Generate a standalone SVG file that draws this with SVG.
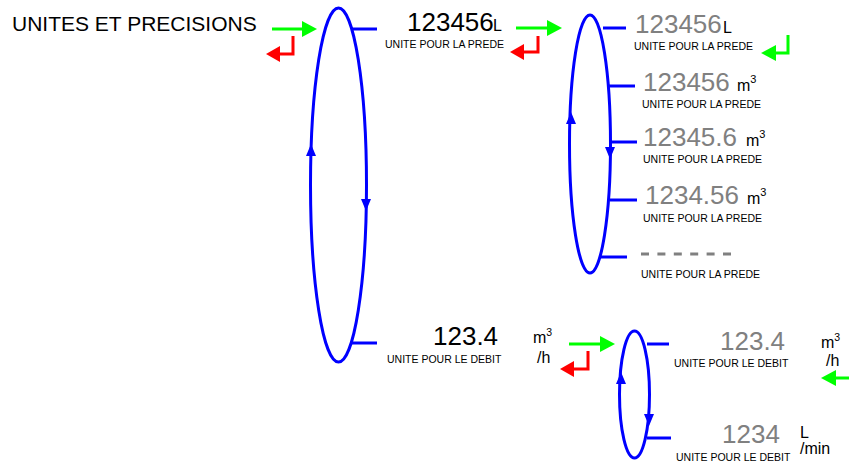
<svg xmlns="http://www.w3.org/2000/svg" width="849" height="463" viewBox="0 0 849 463">
<style>
text{font-family:"Liberation Sans",Arial,sans-serif}
.title{font-size:21px;fill:#000}
.num{font-size:26px;fill:#000}
.gnum{font-size:26px;fill:#808080}
.unit{font-size:16px;fill:#000}
.lbl{font-size:10.5px;fill:#000}
.sup{font-size:11px}
.loop{fill:none;stroke:#0000ff;stroke-width:3}
.tick{stroke:#0000ff;stroke-width:3}
.tri{fill:#0000ff}
.g{stroke:#00ff00;stroke-width:3;fill:none}
.r{stroke:#ff0000;stroke-width:3;fill:none}
</style>
<defs>
<marker id="hg" markerUnits="userSpaceOnUse" markerWidth="15" markerHeight="16" refX="0" refY="8" orient="auto" viewBox="0 0 15 16"><path d="M0,0 L15,8 L0,16 z" fill="#00ff00"/></marker>
<marker id="hr" markerUnits="userSpaceOnUse" markerWidth="14" markerHeight="16" refX="0" refY="8" orient="auto" viewBox="0 0 14 16"><path d="M0,0 L14,8 L0,16 z" fill="#ff0000"/></marker>
</defs>

<text class="title" x="12" y="31">UNITES ET PRECISIONS</text>

<g id="connectors">
<path class="g" d="M272,29 H302" marker-end="url(#hg)"/>
<path class="r" d="M293,36 V54 H280" marker-end="url(#hr)"/>
<path class="g" d="M516,28 H547" marker-end="url(#hg)"/>
<path class="r" d="M538,36 V52 H524" marker-end="url(#hr)"/>
<path class="g" d="M788,35 V53 H776" marker-end="url(#hg)"/>
<path class="g" d="M569,344 H600" marker-end="url(#hg)"/>
<path class="r" d="M588,351 V369 H574" marker-end="url(#hr)"/>
<path class="g" d="M849,378 H836" marker-end="url(#hg)"/>
</g>

<g id="loop1">
<ellipse class="loop" cx="338.5" cy="185" rx="28" ry="177"/>
<line class="tick" x1="352" y1="29" x2="377" y2="29"/>
<line class="tick" x1="352" y1="343" x2="377" y2="343"/>
<polygon class="tri" points="311,144 306,156 316,156"/>
<polygon class="tri" points="366,211 361,199 371,199"/>
</g>

<g id="loop2">
<ellipse class="loop" cx="590" cy="144" rx="20.5" ry="129"/>
<line class="tick" x1="603" y1="28" x2="626" y2="28"/>
<line class="tick" x1="609" y1="86" x2="635" y2="86"/>
<line class="tick" x1="610" y1="142" x2="637" y2="142"/>
<line class="tick" x1="610" y1="200" x2="637" y2="200"/>
<line class="tick" x1="601" y1="257" x2="627" y2="257"/>
<polygon class="tri" points="571,112 566,124 576,124"/>
<polygon class="tri" points="610,159 605,147 615,147"/>
</g>

<g id="loop3">
<ellipse class="loop" cx="634.5" cy="394.5" rx="15" ry="63.5"/>
<line class="tick" x1="647" y1="344" x2="669" y2="344"/>
<line class="tick" x1="647" y1="438" x2="671" y2="438"/>
<polygon class="tri" points="621,372 616,384 626,384"/>
<polygon class="tri" points="649,426 644,414 654,414"/>
</g>

<g id="node-volume-current">
<text class="num" x="407" y="31">123456</text>
<text class="unit" x="493" y="31">L</text>
<text class="lbl" x="385" y="48">UNITE POUR LA PREDE</text>
</g>

<g id="node-volume-L">
<text class="gnum" x="635" y="33">123456</text>
<text class="unit" x="723" y="33">L</text>
<text class="lbl" x="634" y="50">UNITE POUR LA PREDE</text>
</g>

<g id="node-volume-m3">
<text class="gnum" x="643" y="91">123456</text>
<text class="unit" x="737" y="91" font-size="17">m<tspan class="sup" dy="-8">3</tspan></text>
<text class="lbl" x="642" y="108">UNITE POUR LA PREDE</text>
</g>

<g id="node-volume-m3-1">
<text class="gnum" x="643" y="146">12345.6</text>
<text class="unit" x="746" y="146" font-size="17">m<tspan class="sup" dy="-8">3</tspan></text>
<text class="lbl" x="643" y="163">UNITE POUR LA PREDE</text>
</g>

<g id="node-volume-m3-2">
<text class="gnum" x="645" y="204">1234.56</text>
<text class="unit" x="747" y="204" font-size="17">m<tspan class="sup" dy="-8">3</tspan></text>
<text class="lbl" x="643" y="222">UNITE POUR LA PREDE</text>
</g>

<g id="node-volume-off">
<line x1="641" y1="254" x2="731" y2="254" stroke="#808080" stroke-width="3" stroke-dasharray="8 8.4"/>
<text class="lbl" x="641" y="278">UNITE POUR LA PREDE</text>
</g>

<g id="node-flow-current">
<text class="num" x="433" y="345" font-size="25">123.4</text>
<text class="unit" x="533" y="343">m<tspan font-size="10.5" dy="-7">3</tspan></text>
<text class="unit" x="537" y="363">/h</text>
<text class="lbl" x="387" y="363">UNITE POUR LE DEBIT</text>
</g>

<g id="node-flow-m3h">
<text class="gnum" x="720" y="350" font-size="25">123.4</text>
<text class="unit" x="821" y="348">m<tspan font-size="10.5" dy="-7">3</tspan></text>
<text class="unit" x="826" y="366">/h</text>
<text class="lbl" x="674" y="367">UNITE POUR LE DEBIT</text>
</g>

<g id="node-flow-lmin">
<text class="gnum" x="722" y="443" font-size="25">1234</text>
<text class="unit" x="800" y="438" font-size="13">L</text>
<text class="unit" x="800" y="454" font-size="14">/min</text>
<text class="lbl" x="676" y="461">UNITE POUR LE DEBIT</text>
</g>
</svg>
